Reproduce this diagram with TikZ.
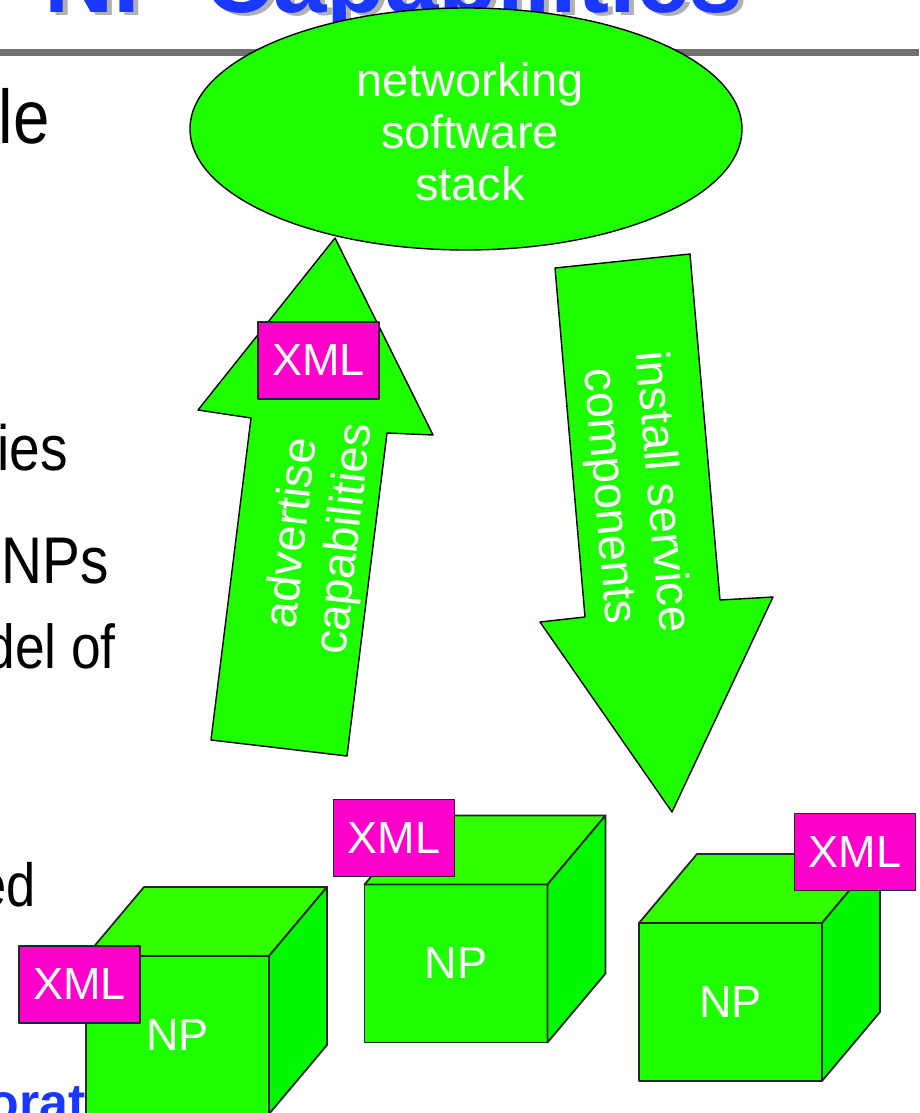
\documentclass[tikz,border=0pt]{standalone}
\usepackage{fontspec}
\setmainfont{Liberation Sans}
\usetikzlibrary{shapes.geometric}
\definecolor{npgreen}{RGB}{30,255,0}
\definecolor{toptone}{RGB}{50,255,0}
\definecolor{sidetone}{RGB}{0,248,0}
\definecolor{xmlpink}{RGB}{255,0,204}
\definecolor{titleblue}{RGB}{25,55,255}
\definecolor{rulegray}{RGB}{112,112,112}
\definecolor{shadowgray}{RGB}{176,176,176}

% one network processor drawn as a cube: name, centre of the front face
\newcommand\npcube[3]{%
  \node[frontface] (#1) at (#2,#3) {NP};
  \draw[cubeedge, fill=toptone] (#1.north west) -- ++(58,-69) -- ++(183,0) -- (#1.north east) -- cycle;
  \draw[cubeedge, fill=sidetone] (#1.north east) -- ++(58,-69) -- ++(0,158) -- (#1.south east) -- cycle;
}

\begin{document}
\begin{tikzpicture}[x=1pt, y=-1pt, line join=round,
  bigtext/.style={font=\fontsize{47}{53}\selectfont},
  tagtext/.style={font=\fontsize{45}{52}\selectfont},
  slidetext/.style={anchor=base east, inner sep=0pt, xscale=0.86},
  cubeedge/.style={draw=black!85, line width=1.8pt},
  frontface/.style={cubeedge, fill=npgreen, minimum width=183pt, minimum height=158pt,
    inner sep=0pt, outer sep=0pt, text=white, tagtext},
  xmltag/.style={draw=black!85, line width=1.6pt, fill=xmlpink, text=white,
    minimum width=121pt, minimum height=77pt, inner sep=0pt, tagtext},
  bigarrow/.style={draw=black, line width=1.4pt, fill=npgreen},
  arrowlabel/.style={text=white, align=center, inner sep=0pt, bigtext},
]
\useasboundingbox (0,0) rectangle (919,1113);
\clip (0,0) rectangle (919,1113);

% slide title with its drop shadow and the rule under it
\node[anchor=base west, inner sep=0pt, text=shadowgray, font=\fontsize{96}{96}\bfseries\selectfont] (titleshadow) at (49,16) {NP Capabilities};
\node[anchor=base west, inner sep=0pt, text=titleblue, font=\fontsize{96}{96}\bfseries\selectfont] (title) at (44,13) {NP Capabilities};
\coordinate (ruleL) at (0,53);
\coordinate (ruleR) at (919,53);
\draw[rulegray, line width=7pt] (ruleL) -- (ruleR);

% bullet text cut off at the left edge
\node[slidetext, font=\fontsize{76}{80}\selectfont] (t1) at (50,143) {le};
\node[slidetext, font=\fontsize{64}{70}\selectfont] (t2) at (68,470) {ies};
\node[slidetext, font=\fontsize{66}{70}\selectfont] (t3) at (109,583) {NPs};
\node[slidetext, font=\fontsize{62}{70}\selectfont] (t4) at (116,668) {del of};
\node[slidetext, font=\fontsize{61}{70}\selectfont] (t5) at (36,906) {ed};
\node[slidetext, xscale=1.16, text=titleblue, font=\fontsize{52}{60}\bfseries\selectfont] (t6) at (86,1120) {orat};

% software stack
\node[ellipse, draw=black, line width=1.4pt, fill=npgreen, minimum width=552pt, minimum height=242pt,
  inner sep=0pt, outer sep=0pt] (stack) at (466,129) {};
\node[text=white, align=center, inner sep=0pt, font=\fontsize{47}{52}\selectfont] (stacklabel) at (470,132)
  {networking\\software\\stack};

% upward arrow: advertise capabilities
\coordinate (upTip) at (335,238);
\draw[bigarrow] (upTip) -- (433,435) -- (387,433) -- (347,756) -- (211,740) -- (251,418) -- (198,410) -- cycle;
\node[arrowlabel, rotate=83.6] (adv) at (320,536) {advertise\\capabilities};
\node[xmltag] (xmlup) at (318.5,360.5) {XML};

% downward arrow: install service components
\coordinate (downTip) at (672,812);
\draw[bigarrow] (555,268) -- (690,254) -- (720,600) -- (773,597) -- (downTip) -- (540,622) -- (585,617) -- cycle;
\node[arrowlabel, rotate=-85] (inst) at (634,494) {install service\\components};

% network processors with their XML descriptions
\npcube{npA}{177.5}{1035}
\npcube{npB}{456}{963.5}
\npcube{npC}{730.5}{1002}
\node[xmltag] (xmlA) at (79.5,984.5) {XML};
\node[xmltag] (xmlB) at (394,838) {XML};
\node[xmltag] (xmlC) at (855,852) {XML};
\end{tikzpicture}
\end{document}
